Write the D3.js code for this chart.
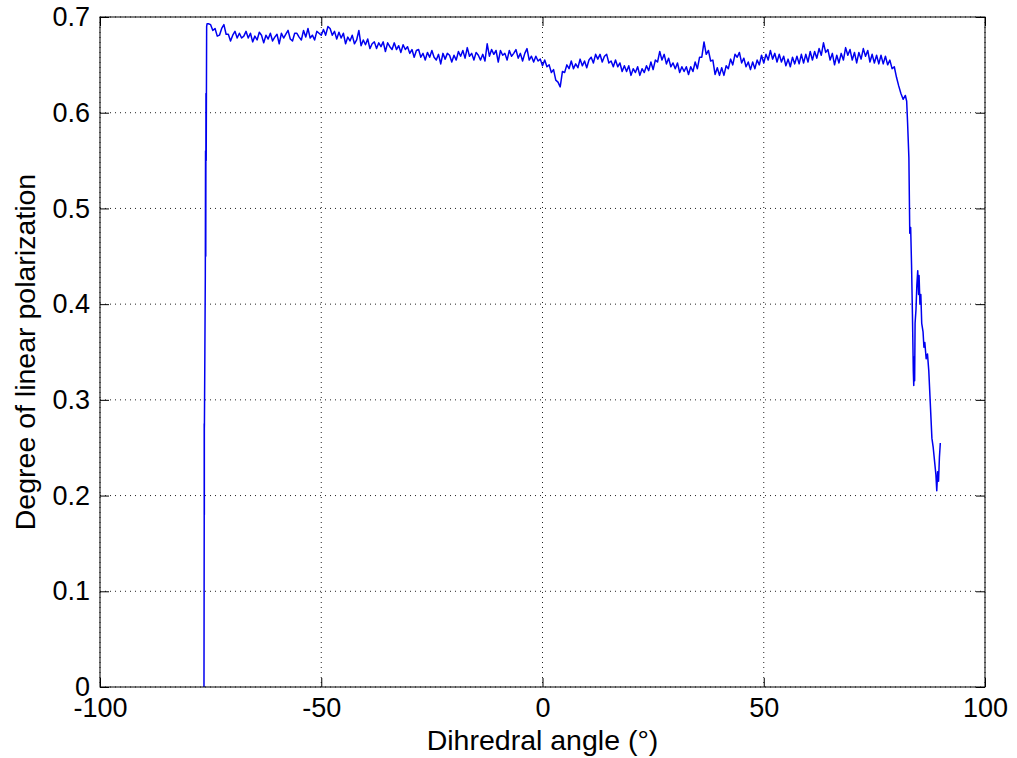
<!DOCTYPE html>
<html><head><meta charset="utf-8">
<script src="https://cdn.jsdelivr.net/npm/d3@7"></script>
<style>body{margin:0;background:#fff}svg{display:block}</style></head>
<body><svg id="c" width="1017" height="758"></svg>
<script>
// ---- data ----
const xTickValues = [-100, -50, 0, 50, 100];
const xTickLabels = ["-100", "-50", "0", "50", "100"];
const yTickValues = [0, 0.1, 0.2, 0.3, 0.4, 0.5, 0.6, 0.7];
const yTickLabels = ["0", "0.1", "0.2", "0.3", "0.4", "0.5", "0.6", "0.7"];
const xLabel = "Dihredral angle (°)";
const yLabel = "Degree of linear polarization";

// initial vertical rise
const riseX = [-76.5, -76.45, -76.45, -76.42, -76.42, -76.4, -76.3, -76.2, -76.15, -76.1, -76.05, -76.0, -75.9, -75.8];
const riseY = [0.0, 0.17, 0.275, 0.18, 0.27, 0.275, 0.35, 0.43, 0.56, 0.45, 0.62, 0.55, 0.69, 0.693];

// sampled plateau, one value every 0.5 degree starting at -75.5
const plateauStart = -75.5;
const plateauStep = 0.5;
const plateauY = [
  0.693,0.692,0.686,0.688,0.680,0.681,0.688,0.692,0.682,0.682,
  0.675,0.681,0.685,0.678,0.683,0.678,0.680,0.685,0.678,0.683,
  0.674,0.680,0.676,0.684,0.681,0.673,0.681,0.677,0.683,0.675,
  0.679,0.682,0.672,0.683,0.678,0.682,0.686,0.677,0.675,0.683,
  0.683,0.679,0.676,0.686,0.679,0.688,0.678,0.681,0.676,0.685,
  0.683,0.681,0.687,0.681,0.690,0.688,0.681,0.685,0.677,0.684,
  0.678,0.683,0.672,0.679,0.675,0.681,0.672,0.676,0.686,0.670,
  0.676,0.671,0.677,0.667,0.672,0.674,0.667,0.673,0.669,0.674,
  0.664,0.673,0.669,0.666,0.673,0.666,0.670,0.663,0.671,0.666,
  0.669,0.662,0.666,0.658,0.665,0.666,0.658,0.662,0.655,0.663,
  0.658,0.665,0.658,0.655,0.661,0.651,0.662,0.656,0.662,0.660,
  0.653,0.660,0.655,0.664,0.659,0.665,0.657,0.668,0.659,0.662,
  0.655,0.663,0.660,0.655,0.661,0.654,0.672,0.659,0.666,0.661,
  0.665,0.653,0.665,0.660,0.662,0.655,0.665,0.659,0.662,0.666,
  0.657,0.662,0.654,0.662,0.667,0.655,0.659,0.653,0.659,0.654,
  0.656,0.649,0.655,0.648,0.650,0.642,0.645,0.634,0.632,0.627,
  0.643,0.642,0.650,0.646,0.654,0.646,0.651,0.647,0.656,0.649,
  0.654,0.647,0.655,0.658,0.652,0.661,0.656,0.661,0.653,0.659,
  0.661,0.652,0.654,0.648,0.655,0.648,0.652,0.643,0.649,0.643,
  0.649,0.639,0.646,0.642,0.648,0.639,0.646,0.642,0.649,0.644,
  0.653,0.645,0.655,0.653,0.664,0.655,0.661,0.651,0.657,0.648,
  0.652,0.646,0.652,0.642,0.648,0.643,0.648,0.640,0.648,0.643,
  0.653,0.646,0.658,0.658,0.674,0.661,0.665,0.654,0.655,0.640,
  0.647,0.639,0.647,0.639,0.649,0.646,0.656,0.650,0.661,0.658,
  0.663,0.652,0.657,0.648,0.653,0.645,0.653,0.646,0.655,0.650,
  0.660,0.652,0.661,0.655,0.665,0.656,0.662,0.653,0.661,0.653,
  0.659,0.649,0.656,0.648,0.658,0.651,0.659,0.651,0.661,0.652,
  0.661,0.653,0.664,0.655,0.664,0.657,0.667,0.660,0.673,0.663,
  0.666,0.655,0.662,0.650,0.660,0.652,0.662,0.655,0.668,0.660,
  0.666,0.655,0.663,0.652,0.663,0.656,0.667,0.659,0.665,0.653,
  0.661,0.652,0.660,0.651,0.660,0.651,0.659,0.650,0.655,0.646,
  0.648,0.637,0.628
];

// steep drop at the right end
const dropX = [81.0, 81.5, 82.0, 82.3, 82.5, 82.8, 83.0, 83.2, 83.4, 83.6, 83.8, 83.9, 84.0, 84.1, 84.2, 84.4, 84.6, 84.8, 85.0, 85.1, 85.3, 85.5, 85.7, 86.0, 86.2, 86.4, 86.7, 87.0, 87.3, 87.6, 88.0, 88.3, 88.6, 88.9, 89.1, 89.3, 89.5, 89.7, 89.9];
const dropY = [0.620, 0.614, 0.618, 0.612, 0.590, 0.553, 0.474, 0.480, 0.441, 0.390, 0.330, 0.315, 0.345, 0.320, 0.380, 0.394, 0.420, 0.435, 0.410, 0.430, 0.400, 0.410, 0.380, 0.371, 0.355, 0.360, 0.343, 0.348, 0.330, 0.300, 0.260, 0.250, 0.236, 0.222, 0.205, 0.225, 0.215, 0.240, 0.255];

// ---- build series ----
const series = [];
riseX.forEach((x, i) => series.push([x, riseY[i]]));
plateauY.forEach((y, i) => series.push([plateauStart + i * plateauStep, y]));
dropX.forEach((x, i) => series.push([x, dropY[i]]));

// ---- layout ----
const W = 1017, H = 758;
const m = {left: 100, right: 32, top: 17, bottom: 71};
const iw = W - m.left - m.right, ih = H - m.top - m.bottom;
const font = "'Liberation Sans', Arial, Helvetica, sans-serif";

const svg = d3.select("#c");
svg.append("rect").attr("width", W).attr("height", H).attr("fill", "#fff");
const g = svg.append("g").attr("transform", `translate(${m.left},${m.top})`);

const x = d3.scaleLinear().domain([-100, 100]).range([0, iw]);
const y = d3.scaleLinear().domain([0, 0.7]).range([ih, 0]);

// grid
const grid = g.append("g").attr("stroke", "#222").attr("stroke-width", 1).attr("stroke-dasharray", "1,4");
grid.selectAll(".gx").data(xTickValues).join("line")
  .attr("x1", d => x(d)).attr("x2", d => x(d)).attr("y1", 0).attr("y2", ih);
grid.selectAll(".gy").data(yTickValues).join("line")
  .attr("x1", 0).attr("x2", iw).attr("y1", d => y(d)).attr("y2", d => y(d));

// data line
g.append("path").datum(series)
  .attr("fill", "none").attr("stroke", "#0000f0").attr("stroke-width", 1.5)
  .attr("stroke-linejoin", "round")
  .attr("d", d3.line().x(d => x(d[0])).y(d => y(d[1])));

// axes (ticks inward, MATLAB style)
const styleAxis = sel => {
  sel.select(".domain").remove();
  sel.selectAll(".tick line").attr("stroke", "#000");
  sel.selectAll("text").attr("fill", "#000").style("font-family", font).style("font-size", "27px");
};
g.append("g").attr("transform", `translate(0,${ih})`)
  .call(d3.axisBottom(x).tickValues(xTickValues).tickSize(-9).tickPadding(11)
    .tickFormat((d, i) => xTickLabels[i])).call(styleAxis);
g.append("g")
  .call(d3.axisLeft(y).tickValues(yTickValues).tickSize(-9).tickPadding(10)
    .tickFormat((d, i) => yTickLabels[i])).call(styleAxis);
g.append("g")
  .call(d3.axisTop(x).tickValues(xTickValues).tickSize(-9).tickFormat("")).call(styleAxis);
g.append("g").attr("transform", `translate(${iw},0)`)
  .call(d3.axisRight(y).tickValues(yTickValues).tickSize(-9).tickFormat("")).call(styleAxis);

// box
g.append("rect").attr("width", iw).attr("height", ih)
  .attr("fill", "none").attr("stroke", "#000").attr("stroke-width", 1);

// axis labels
svg.append("text").attr("x", m.left + iw / 2).attr("y", 750)
  .attr("text-anchor", "middle").style("font-family", font).style("font-size", "28.5px")
  .text(xLabel);
svg.append("text").attr("transform", `translate(35,${m.top + ih / 2}) rotate(-90)`)
  .attr("text-anchor", "middle").style("font-family", font).style("font-size", "28.5px")
  .text(yLabel);
</script></body></html>
